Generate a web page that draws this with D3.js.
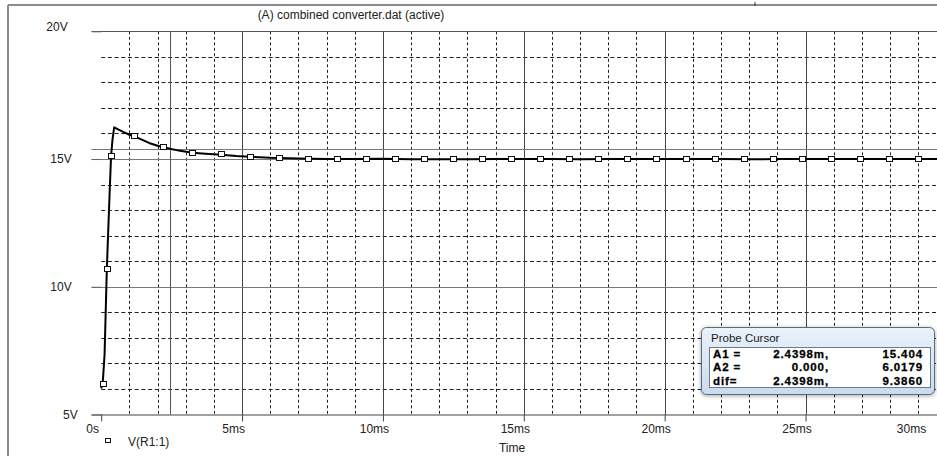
<!DOCTYPE html>
<html><head><meta charset="utf-8">
<script src="https://cdn.jsdelivr.net/npm/d3@7/dist/d3.min.js"></script>
<style>
html,body{margin:0;padding:0;background:#fff;}
svg{display:block;}
text{font-family:"Liberation Sans",Arial,sans-serif;}
</style></head>
<body>
<svg id="chart" width="937" height="456"></svg>
<script>
// ---- data ----
const titleText = "(A) combined converter.dat (active)";
const seriesName = "V(R1:1)";
const timeMs = [0, 0.05, 0.1, 0.12, 0.2, 0.3, 0.35, 0.4, 0.46, 0.6, 0.8, 1.0, 1.15, 1.4, 1.7, 2.0, 2.21, 2.44, 2.8, 3.24, 3.7, 4.26, 4.8, 5.29, 6, 7, 8, 9, 10, 11, 12, 13, 14, 15, 16, 17, 18, 19, 20, 21, 22, 23, 24, 25, 26, 27, 28, 29, 30, 31];
const volts  = [6.02, 6.18, 7.0, 7.35, 10.7, 13.7, 15.1, 15.75, 16.24, 16.16, 16.05, 15.95, 15.9, 15.78, 15.63, 15.52, 15.46, 15.40, 15.32, 15.25, 15.21, 15.17, 15.12, 15.09, 15.05, 15.02, 15.0, 15.0, 15.01, 14.99, 14.99, 14.99, 15.0, 15.0, 15.0, 14.99, 15.0, 15.0, 15.0, 15.0, 15.0, 14.99, 15.0, 15.0, 15.0, 15.0, 15.0, 15.0, 15.0, 15.0];
const markerMs = [0.06, 0.2, 0.35, 1.15, 2.21, 3.24, 4.26, 5.29, 6.32, 7.35, 8.38, 9.41, 10.44, 11.47, 12.5, 13.53, 14.56, 15.59, 16.62, 17.65, 18.68, 19.71, 20.74, 21.77, 22.8, 23.83, 24.86, 25.89, 26.92, 27.95, 28.98];
const markerV  = [6.18, 10.7, 15.1, 15.9, 15.46, 15.25, 15.18, 15.09, 15.04, 15.02, 15.0, 15.0, 15.01, 14.99, 14.99, 14.99, 15.0, 15.0, 15.0, 14.99, 15.0, 15.0, 15.0, 15.0, 15.0, 14.99, 15.0, 15.0, 15.0, 15.0, 15.0];
const xTicks = [0, 5, 10, 15, 20, 25, 30];
const xTickLabels = ["0s", "5ms", "10ms", "15ms", "20ms", "25ms", "30ms"];
const yTicks = [5, 10, 15, 20];
const yTickLabels = ["5V", "10V", "15V", "20V"];
const cursorA1 = [2.4398, 15.404];
const cursorA2 = [0.0, 6.0179];
const probeRows = [["A1 =", "2.4398m,", "15.404"], ["A2 =", "0.000,", "6.0179"], ["dif=", "2.4398m,", "9.3860"]];

// ---- drawing ----
const svg = d3.select("#chart");
const x = d3.scaleLinear().domain([0, 30]).range([101.2, 946.4]);
const y = d3.scaleLinear().domain([5, 20]).range([414.5, 31.3]);
const L = x(0), R = 937, T = y(20), B = y(5);

// outer frame
svg.append("line").attr("x1", 8).attr("x2", 937).attr("y1", 5).attr("y2", 5).attr("stroke", "#8a8a8a").attr("stroke-width", 2);
svg.append("line").attr("x1", 8).attr("x2", 8).attr("y1", 5).attr("y2", 456).attr("stroke", "#8a8a8a").attr("stroke-width", 2);
svg.append("line").attr("x1", 755).attr("x2", 755).attr("y1", 2).attr("y2", 6).attr("stroke", "#333").attr("stroke-width", 1);

// minor grid
const g = svg.append("g");
const minorX = d3.range(0, 34, 1).filter(d => d % 5 !== 0 && x(d) < R);
g.selectAll(".mx").data(minorX).enter().append("line")
  .attr("x1", d => Math.round(x(d)) + 0.5).attr("x2", d => Math.round(x(d)) + 0.5)
  .attr("y1", T).attr("y2", B)
  .attr("stroke", "#222").attr("stroke-width", 1).attr("stroke-dasharray", "3,2.5");
const minorY = d3.range(6, 20, 1).filter(d => d % 5 !== 0);
g.selectAll(".my").data(minorY).enter().append("line")
  .attr("x1", L).attr("x2", R)
  .attr("y1", d => Math.round(y(d)) + 0.5).attr("y2", d => Math.round(y(d)) + 0.5)
  .attr("stroke", "#222").attr("stroke-width", 1).attr("stroke-dasharray", "4,2.7");

// major grid
g.selectAll(".Mx").data(xTicks.filter(d => d > 0 && x(d) < R)).enter().append("line")
  .attr("x1", d => Math.round(x(d)) + 0.5).attr("x2", d => Math.round(x(d)) + 0.5)
  .attr("y1", T).attr("y2", B).attr("stroke", "#444").attr("stroke-width", 1);
g.selectAll(".My").data(yTicks.filter(d => d > 5)).enter().append("line")
  .attr("x1", 91.5).attr("x2", R)
  .attr("y1", d => Math.round(y(d)) + 0.5).attr("y2", d => Math.round(y(d)) + 0.5)
  .attr("stroke", d => d === 20 ? "#555" : "#777").attr("stroke-width", 1);

// cursors
svg.append("line").attr("x1", Math.round(x(cursorA1[0])) + 0.5).attr("x2", Math.round(x(cursorA1[0])) + 0.5)
  .attr("y1", T).attr("y2", B).attr("stroke", "#555").attr("stroke-width", 1);
svg.append("line").attr("x1", 91.5).attr("x2", R)
  .attr("y1", Math.round(y(cursorA1[1])) + 0.5).attr("y2", Math.round(y(cursorA1[1])) + 0.5)
  .attr("stroke", "#777").attr("stroke-width", 1);

// axes
const xAxis = d3.axisBottom(x).tickValues(xTicks).tickFormat((d, i) => xTickLabels[i]).tickSize(7).tickPadding(3).tickSizeOuter(0);
const xa = svg.append("g").attr("transform", `translate(0,${B})`).call(xAxis);
xa.select(".domain").attr("d", `M91.5,0.5H${R}`).attr("stroke", "#444");
xa.selectAll(".tick line").attr("stroke", "#444");
xa.selectAll(".tick text").attr("font-size", 12).attr("fill", "#222")
  .attr("font-family", "Liberation Sans, Arial, sans-serif")
  .attr("dx", d => (x(d) - 9 > 911 ? 911 - x(d) : -9));

const yAxis = d3.axisLeft(y).tickValues(yTicks).tickFormat((d, i) => yTickLabels[i]).tickSize(9.5).tickPadding(20).tickSizeOuter(0);
const ya = svg.append("g").attr("transform", `translate(${L},0)`).call(yAxis);
ya.select(".domain").remove();
ya.selectAll(".tick line").attr("stroke", "#666");
ya.selectAll(".tick text").attr("font-size", 12).attr("fill", "#222")
  .attr("font-family", "Liberation Sans, Arial, sans-serif")
  .attr("dx", d => d === 5 ? 6 : (d === 20 ? -4 : 0))
  .attr("dy", d => d === 20 ? "-0.05em" : "0.32em");

// curve
const pts = timeMs.map((t, i) => [t, volts[i]]);
const line = d3.line().x(d => x(d[0])).y(d => y(d[1]));
svg.append("path").datum(pts).attr("d", line).attr("fill", "none")
  .attr("stroke", "#000").attr("stroke-width", 2).attr("stroke-linejoin", "round");

// markers
const mk = markerMs.map((t, i) => [t, markerV[i]]).filter(d => x(d[0]) < R);
svg.selectAll(".mk").data(mk).enter().append("rect")
  .attr("x", d => Math.round(x(d[0])) - 3 + 0.5).attr("y", d => Math.round(y(d[1])) - 2.5)
  .attr("width", 6).attr("height", 5)
  .attr("fill", "#fff").attr("stroke", "#111").attr("stroke-width", 1);

// title
svg.append("text").attr("x", 351).attr("y", 19).attr("text-anchor", "middle")
  .attr("font-size", 12).attr("fill", "#222").text(titleText);

// legend
svg.append("rect").attr("x", 105.5).attr("y", 438.5).attr("width", 5).attr("height", 4)
  .attr("fill", "#fff").attr("stroke", "#111").attr("stroke-width", 1);
svg.append("text").attr("x", 128).attr("y", 446).attr("font-size", 12).attr("fill", "#222").text(seriesName);

// axis title
svg.append("text").attr("x", 512).attr("y", 452).attr("text-anchor", "middle")
  .attr("font-size", 12).attr("fill", "#222").text("Time");

// probe cursor box
const defs = svg.append("defs");
const grad = defs.append("linearGradient").attr("id", "aero").attr("x1", 0).attr("y1", 0).attr("x2", 0).attr("y2", 1);
grad.append("stop").attr("offset", 0).attr("stop-color", "#eaf2fb");
grad.append("stop").attr("offset", 1).attr("stop-color", "#c9dbef");
const flt = defs.append("filter").attr("id", "sh").attr("x", -0.1).attr("y", -0.2).attr("width", 1.2).attr("height", 1.5);
flt.append("feDropShadow").attr("dx", 0).attr("dy", 1).attr("stdDeviation", 2).attr("flood-color", "#000").attr("flood-opacity", 0.35);
const pb = svg.append("g");
pb.append("rect").attr("x", 701.5).attr("y", 327.5).attr("width", 233).attr("height", 67).attr("rx", 5)
  .attr("fill", "url(#aero)").attr("stroke", "#5d6b7a").attr("stroke-width", 1).attr("filter", "url(#sh)");
pb.append("text").attr("x", 711).attr("y", 342).attr("font-size", 11.5).attr("fill", "#1a1a1a")
  .attr("font-family", "Open Sans, Liberation Sans, sans-serif").text("Probe Cursor");
pb.append("rect").attr("x", 709.5).attr("y", 347.5).attr("width", 221).attr("height", 40)
  .attr("fill", "#fff").attr("stroke", "#6a7a8a").attr("stroke-width", 1);
const rowY = [359.5, 372.8, 386];
probeRows.forEach((r, i) => {
  const common = s => s.attr("font-family", "DejaVu Sans Mono, monospace").attr("font-weight", "bold")
    .attr("font-size", 11.5).attr("fill", "#000").attr("letter-spacing", 0.9)
    .attr("stroke", "#000").attr("stroke-width", 0.3);
  common(pb.append("text").attr("x", 713).attr("y", rowY[i] - 1.5).text(r[0]));
  common(pb.append("text").attr("x", 829).attr("y", rowY[i] - 1.5).attr("text-anchor", "end").text(r[1]));
  common(pb.append("text").attr("x", 923).attr("y", rowY[i] - 1.5).attr("text-anchor", "end").text(r[2]));
});
</script>
</body></html>
